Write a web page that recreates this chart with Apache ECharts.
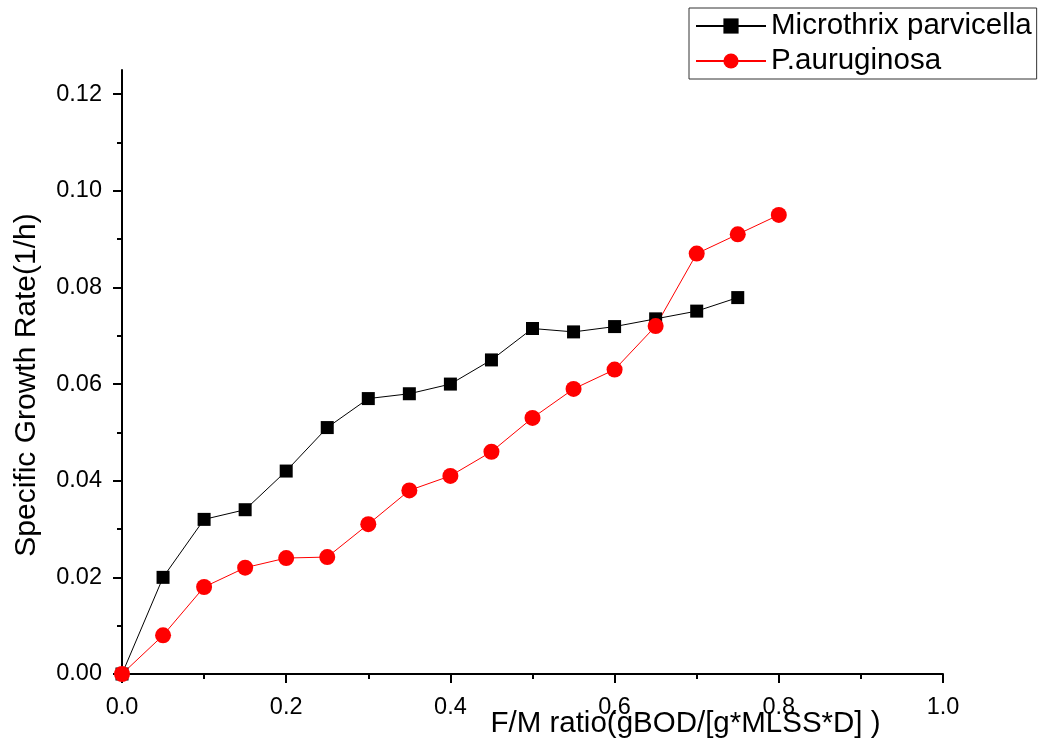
<!DOCTYPE html>
<html>
<head>
<meta charset="utf-8">
<script src="https://cdn.jsdelivr.net/npm/echarts@6/dist/echarts.min.js"></script>
<style>html,body{margin:0;padding:0;background:#fff}#c{width:1047px;height:742px}</style>
</head>
<body>
<div id="c"></div>
<script>
const fmRatio = [0, 0.05, 0.1, 0.15, 0.2, 0.25, 0.3, 0.35, 0.4, 0.45, 0.5, 0.55, 0.6, 0.65, 0.7, 0.75, 0.8];
const microthrix = [0, 0.020, 0.032, 0.034, 0.042, 0.051, 0.057, 0.058, 0.060, 0.065, 0.0715, 0.0708, 0.0719, 0.0735, 0.0751, 0.0779];
const pAuruginosa = [0, 0.008, 0.018, 0.022, 0.024, 0.0242, 0.031, 0.038, 0.041, 0.046, 0.053, 0.059, 0.063, 0.072, 0.087, 0.091, 0.095];
const yMajorTicks = [0, 0.02, 0.04, 0.06, 0.08, 0.10, 0.12];
const yMinorTicks = [0.01, 0.03, 0.05, 0.07, 0.09, 0.11];
const seriesNames = ['Microthrix parvicella', 'P.auruginosa'];
const xTitle = 'F/M ratio(gBOD/[g*MLSS*D] )';
const yTitle = 'Specific Growth Rate(1/h)';

const pair = (ys) => ys.map((v, i) => [fmRatio[i], v]);
const font = 'Liberation Sans, Arial, sans-serif';

const chart = echarts.init(document.getElementById('c'));
chart.setOption({
  animation: false,
  backgroundColor: '#fff',
  grid: { left: 122, right: 104, top: 70, bottom: 68, containLabel: false, outerBoundsMode: 'none' },
  legend: {
    orient: 'vertical',
    left: 689, top: 8,
    padding: [3, 5, 3, 6],
    itemGap: 5,
    itemWidth: 70, itemHeight: 19,
    borderColor: '#333', borderWidth: 1,
    textStyle: { fontFamily: font, fontSize: 29.5, color: '#000', lineHeight: 30 },
    data: seriesNames
  },
  xAxis: {
    type: 'value', min: 0, max: 1.0, interval: 0.2,
    name: xTitle, nameLocation: 'middle', nameGap: 35, nameMoveOverlap: false,
    nameTextStyle: { fontFamily: font, fontSize: 29.5, color: '#000', padding: [0, 0, 0, 306] },
    axisLine: { show: true, onZero: false, lineStyle: { color: '#000', width: 2 } },
    axisTick: { show: true, inside: false, length: 9, lineStyle: { color: '#000', width: 2 } },
    minorTick: { show: true, splitNumber: 2, length: 5, lineStyle: { color: '#000', width: 2 } },
    axisLabel: { fontFamily: font, fontSize: 23.5, color: '#000', margin: 22, formatter: v => v.toFixed(1) },
    splitLine: { show: false }
  },
  yAxis: [{
    type: 'value', min: 0, max: 0.125,
    name: yTitle, nameLocation: 'middle', nameGap: 80, nameRotate: 90, nameMoveOverlap: false,
    nameTextStyle: { fontFamily: font, fontSize: 30, color: '#000', padding: [0, 26, 0, 0] },
    axisLine: { show: true, onZero: false, lineStyle: { color: '#000', width: 2 } },
    axisTick: { show: true, inside: false, length: 9, customValues: yMajorTicks, lineStyle: { color: '#000', width: 2 } },
    axisLabel: { fontFamily: font, fontSize: 23.5, color: '#000', margin: 20, customValues: yMajorTicks, formatter: v => v.toFixed(2) },
    splitLine: { show: false }
  }, {
    type: 'value', min: 0, max: 0.125, position: 'left',
    axisLine: { show: false },
    axisTick: { show: true, inside: false, length: 5, customValues: yMinorTicks, lineStyle: { color: '#000', width: 2 } },
    axisLabel: { show: false },
    splitLine: { show: false }
  }],
  series: [{
    name: seriesNames[0], type: 'line', data: pair(microthrix),
    symbol: 'rect', symbolSize: 13,
    itemStyle: { color: '#000' },
    lineStyle: { color: '#000', width: 1 },
    clip: false
  }, {
    name: seriesNames[1], type: 'line', data: pair(pAuruginosa),
    symbol: 'circle', symbolSize: 16,
    itemStyle: { color: '#ff0000' },
    lineStyle: { color: '#ff0000', width: 1 },
    clip: false
  }]
});
</script>
</body>
</html>
